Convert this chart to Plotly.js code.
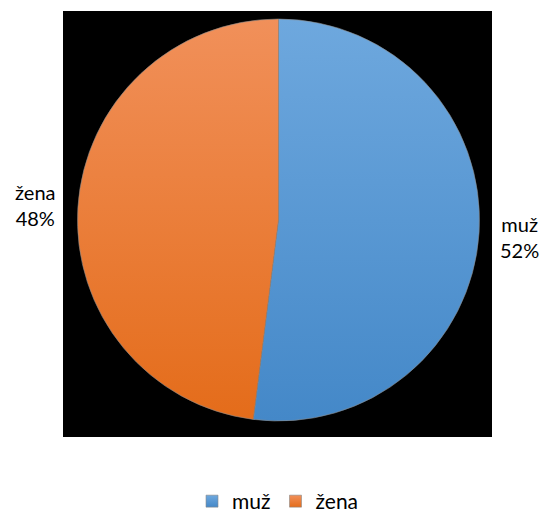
<!DOCTYPE html>
<html>
<head>
<meta charset="utf-8">
<script src="https://cdn.plot.ly/plotly-3.0.1.min.js"></script>
<style>
html,body{margin:0;padding:0;background:#fff;}
#chart{width:543px;height:516px;}
</style>
</head>
<body>
<div id="chart"></div>
<script>
// Data
var labels = ['muž', 'žena'];
var values = [52, 48];
var colors = ['#5b9bd5', '#ed7d31'];
var gradTop = ['#6ea8de', '#f1905a'];
var gradBottom = ['#4488c8', '#e46c1a'];

var total = values.reduce(function(a, b){ return a + b; }, 0);
function pctText(i){ return labels[i] + '<br>' + Math.round(values[i] / total * 100) + '%'; }

var W = 543, H = 516;
var FONT = 'Lato, "Open Sans", sans-serif';

var trace = {
  type: 'pie',
  labels: labels,
  values: values,
  sort: false,
  direction: 'clockwise',
  rotation: 0,
  textinfo: 'none',
  hoverinfo: 'none',
  marker: { colors: colors, line: { color: '#8a8a8a', width: 0.6 } },
  domain: { x: [77.5 / W, 479.5 / W], y: [1 - 421 / H, 1 - 19 / H] }
};

var layout = {
  width: W, height: H,
  margin: { l: 0, r: 0, t: 0, b: 0, autoexpand: false },
  paper_bgcolor: '#ffffff',
  font: { family: FONT, size: 20, color: '#000000' },
  showlegend: true,
  legend: {
    orientation: 'h',
    x: 0.512, xanchor: 'center',
    y: -6 / H, yanchor: 'bottom',
    itemwidth: 30,
    font: { family: FONT, size: 21, color: '#000000' },
    itemclick: false, itemdoubleclick: false
  },
  shapes: [{
    type: 'rect', xref: 'paper', yref: 'paper', layer: 'below',
    x0: 63 / W, x1: 492 / W, y0: 1 - 437 / H, y1: 1 - 11 / H,
    fillcolor: '#000000', line: { width: 0 }
  }],
  annotations: [
    { text: pctText(1), xref: 'paper', yref: 'paper', x: 58 / W, y: 1 - 205 / H,
      xanchor: 'right', yanchor: 'middle', align: 'center', showarrow: false,
      font: { family: FONT, size: 20, color: '#000000' } },
    { text: pctText(0), xref: 'paper', yref: 'paper', x: 498 / W, y: 1 - 237 / H,
      xanchor: 'left', yanchor: 'middle', align: 'center', showarrow: false,
      font: { family: FONT, size: 20, color: '#000000' } }
  ]
};

Plotly.newPlot('chart', [trace], layout, { staticPlot: true, displayModeBar: false }).then(function(gd){
  var svg = gd.querySelector('svg.main-svg');
  var ns = 'http://www.w3.org/2000/svg';
  var defs = svg.querySelector('defs') || svg.insertBefore(document.createElementNS(ns, 'defs'), svg.firstChild);
  function makeGrad(id, c0, c1){
    var g = document.createElementNS(ns, 'linearGradient');
    g.setAttribute('id', id);
    g.setAttribute('x1', '0'); g.setAttribute('y1', '0');
    g.setAttribute('x2', '0'); g.setAttribute('y2', '1');
    var s0 = document.createElementNS(ns, 'stop'); s0.setAttribute('offset', '0'); s0.setAttribute('stop-color', c0);
    var s1 = document.createElementNS(ns, 'stop'); s1.setAttribute('offset', '1'); s1.setAttribute('stop-color', c1);
    g.appendChild(s0); g.appendChild(s1); defs.appendChild(g);
  }
  labels.forEach(function(l, i){ makeGrad('sliceGrad' + i, gradTop[i], gradBottom[i]); });
  var slices = gd.querySelectorAll('.pielayer .slice path.surface');
  slices.forEach(function(p, i){ p.style.fill = 'url(#sliceGrad' + i + ')'; });
  var legPts = gd.querySelectorAll('.legend .legendpoints path');
  legPts.forEach(function(p, i){ p.style.fill = 'url(#sliceGrad' + i + ')'; });
});
</script>
</body>
</html>
